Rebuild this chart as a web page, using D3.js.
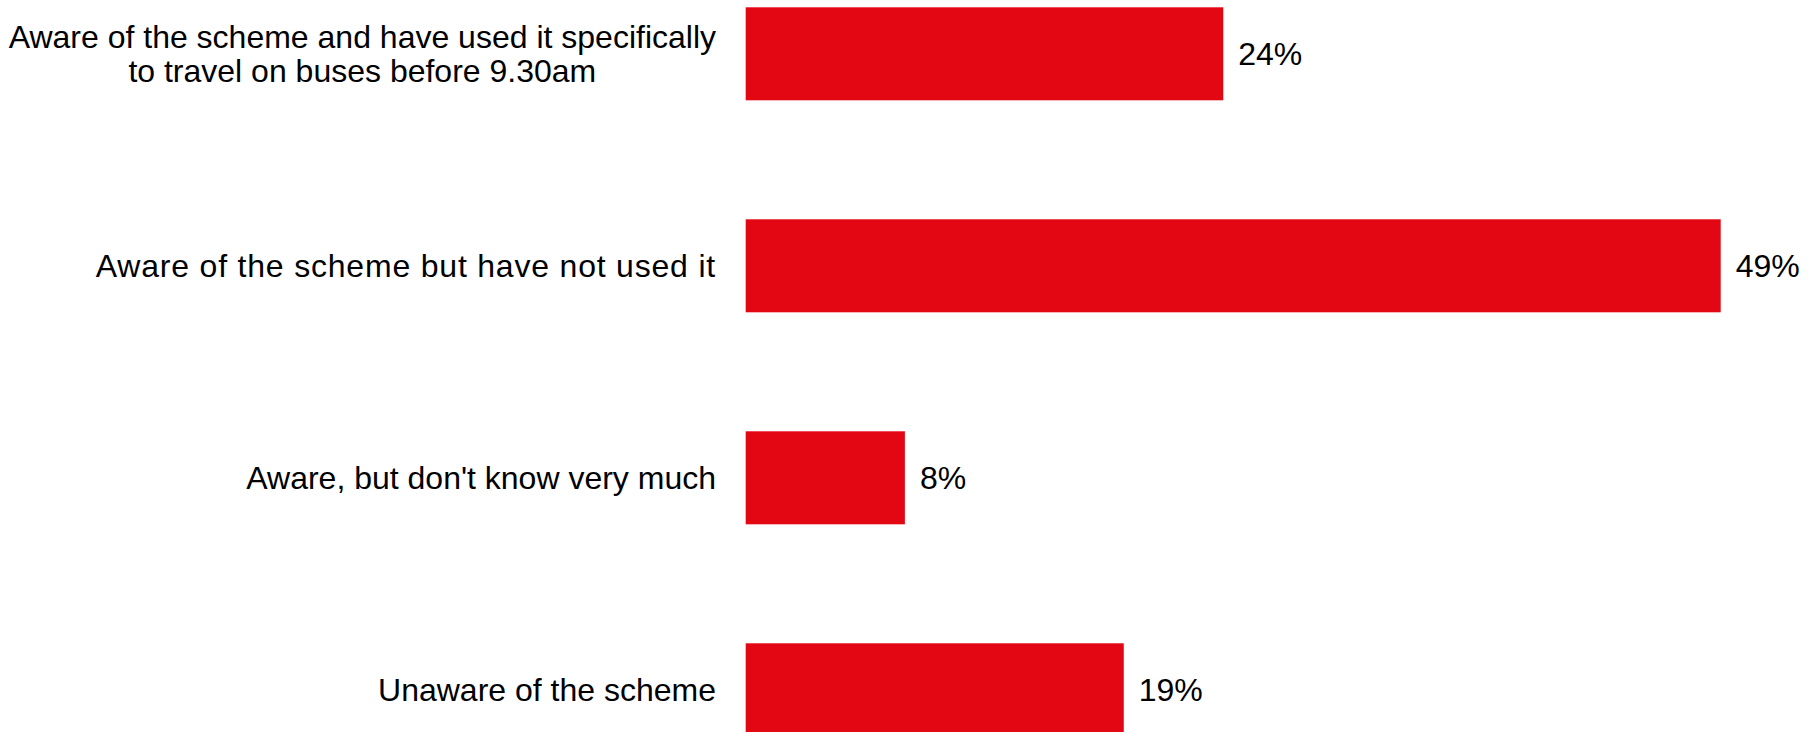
<!DOCTYPE html>
<html>
<head>
<meta charset="utf-8">
<script src="https://cdn.jsdelivr.net/npm/d3@7"></script>
<style>
  html, body { margin: 0; padding: 0; background: #ffffff; }
  svg { display: block; }
  text { font-family: "Liberation Sans", Arial, sans-serif; fill: #000; }
</style>
</head>
<body>
<svg id="chart" width="1808" height="732"></svg>
<script>
// Survey responses on awareness of the scheme
const categories = [
  ["Aware of the scheme and have used it specifically", "to travel on buses before 9.30am"],
  ["Aware of the scheme but have not used it"],
  ["Aware, but don't know very much"],
  ["Unaware of the scheme"]
];
const values = [24, 49, 8, 19];
const valueLabels = ["24%", "49%", "8%", "19%"];

const svg = d3.select("#chart");
const barColor = "#e30613";
const fontSize = 32;
const labelRight = 716;

const keys = categories.map((c, i) => i);

const x = d3.scaleLinear()
  .domain([0, 49])
  .range([745.7, 1720.7]);

const y = d3.scaleBand()
  .domain(keys)
  .range([7.3, 736.3])
  .paddingInner(119 / 212)
  .paddingOuter(0);

// Bars
svg.append("g")
  .selectAll("rect")
  .data(values)
  .join("rect")
  .attr("x", x(0))
  .attr("y", (d, i) => y(i))
  .attr("width", d => x(d) - x(0))
  .attr("height", y.bandwidth())
  .attr("fill", barColor);

// Value labels
svg.append("g")
  .selectAll("text")
  .data(values)
  .join("text")
  .attr("x", d => x(d) + 15)
  .attr("y", (d, i) => y(i) + y.bandwidth() / 2)
  .attr("dy", "0.35em")
  .attr("font-size", fontSize)
  .text((d, i) => valueLabels[i]);

// Category labels, right-aligned against the bars
const lineHeight = 34.6;
const catG = svg.append("g");
categories.forEach((lines, i) => {
  const cy = y(i) + y.bandwidth() / 2;
  const t = catG.append("text")
    .attr("text-anchor", lines.length > 1 ? "middle" : "end")
    .attr("font-size", fontSize)
    .style("letter-spacing", i === 1 ? "0.8px" : null);
  lines.forEach((line, j) => {
    t.append("tspan")
      .attr("x", labelRight)
      .attr("y", cy + (j - (lines.length - 1) / 2) * lineHeight)
      .attr("dy", "0.35em")
      .text(line);
  });
});
// Multi-line label: centre the lines on each other, right edge at labelRight
catG.selectAll("text").each(function() {
  const el = d3.select(this);
  if (el.attr("text-anchor") === "middle") {
    const bb = this.getBBox();
    el.selectAll("tspan").attr("x", labelRight - bb.width / 2);
  }
});
</script>
</body>
</html>
